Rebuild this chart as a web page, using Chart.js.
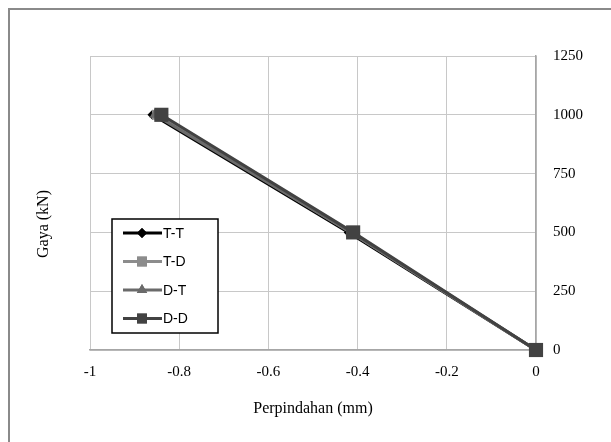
<!DOCTYPE html>
<html>
<head>
<meta charset="utf-8">
<script src="https://cdn.jsdelivr.net/npm/chart.js@4"></script>
<style>
  html, body { margin: 0; padding: 0; background: #fff; }
  #wrap { position: relative; width: 611px; height: 442px; overflow: hidden; }
  #frame {
    position: absolute; left: 8px; top: 8px; width: 620px; height: 460px;
    border-left: 2px solid #8a8a8a; border-top: 2px solid #8a8a8a;
    pointer-events: none;
  }
  canvas { position: absolute; left: 0; top: 0; }
</style>
</head>
<body>
<div id="wrap">
  <canvas id="c" width="611" height="442"></canvas>
  <div id="frame"></div>
</div>
<script>
/* data */
var forceKN = [1000, 500, 0];
var dispTT = [-0.86, -0.42, 0];
var dispTD = [-0.85, -0.415, 0];
var dispDT = [-0.855, -0.415, 0];
var dispDD = [-0.84, -0.41, 0];
var xTicks = [-1, -0.8, -0.6, -0.4, -0.2, 0];
var yTicks = [0, 250, 500, 750, 1000, 1250];

var serif = "'Liberation Serif', 'DejaVu Serif', serif";
var sans = "'Liberation Sans', Arial, sans-serif";

function pts(xs) {
  return xs.map(function (x, i) { return { x: x, y: forceKN[i] }; });
}

function series(label, xs, color, style, radius, order) {
  return {
    label: label, data: pts(xs), showLine: true,
    borderColor: color, backgroundColor: color, borderWidth: 3,
    pointStyle: style, pointRadius: radius, pointBorderWidth: 0,
    order: order, fill: false, clip: false
  };
}

// legend box drawn inside the plot, like the spreadsheet one
var boxLegend = {
  id: "boxLegend",
  afterDraw: function (chart) {
    var ctx = chart.ctx;
    var bx = 112, by = 219, bw = 106, bh = 114;
    ctx.save();
    ctx.fillStyle = "#fff";
    ctx.fillRect(bx, by, bw, bh);
    ctx.strokeStyle = "#000";
    ctx.lineWidth = 1.5;
    ctx.strokeRect(bx, by, bw, bh);
    chart.data.datasets.forEach(function (ds, i) {
      var y = 233 + i * 28.5;
      ctx.strokeStyle = ds.borderColor;
      ctx.lineWidth = 3;
      ctx.beginPath();
      ctx.moveTo(123, y);
      ctx.lineTo(162, y);
      ctx.stroke();
      ctx.fillStyle = ds.backgroundColor;
      var r = Math.min(ds.pointRadius, 7);
      Chart.helpers.drawPoint(ctx, { pointStyle: ds.pointStyle, radius: r, borderWidth: 0 }, 142, y);
      ctx.fill();
      ctx.fillStyle = "#000";
      ctx.font = "14px " + sans;
      ctx.textBaseline = "middle";
      ctx.fillText(ds.label, 163, y + 1);
    });
    // y axis title on the left
    ctx.translate(44, 224);
    ctx.rotate(-Math.PI / 2);
    ctx.textAlign = "center";
    ctx.textBaseline = "middle";
    ctx.font = "16px " + serif;
    ctx.fillStyle = "#000";
    ctx.fillText("Gaya (kN)", 0, 0);
    ctx.restore();
  }
};

new Chart(document.getElementById("c"), {
  type: "scatter",
  data: {
    datasets: [
      series("T-T", dispTT, "#000000", "rectRot", 5, 3),
      series("T-D", dispTD, "#8c8c8c", "rect", 7, 2),
      series("D-T", dispDT, "#6a6a6a", "triangle", 6, 1),
      series("D-D", dispDD, "#424242", "rect", 10, 0)
    ]
  },
  options: {
    responsive: false,
    animation: false,
    layout: { padding: { top: 56, left: 0, right: 0, bottom: 0 } },
    plugins: { legend: { display: false }, tooltip: { enabled: false } },
    scales: {
      x: {
        type: "linear", min: -1, max: 0,
        afterBuildTicks: function (s) { s.ticks = xTicks.map(function (v) { return { value: v }; }); },
        afterFit: function (s) { s.height = 92; },
        grid: { color: "#c8c8c8", drawTicks: false },
        border: { color: "#a6a6a6", width: 1.5 },
        ticks: { color: "#000", padding: 13, font: { family: serif, size: 15 },
                 callback: function (v) { return String(v); } },
        title: { display: true, text: "Perpindahan (mm)", color: "#000", padding: { top: 0, bottom: 24 }, font: { family: serif, size: 16 } }
      },
      y: {
        position: "right", min: 0, max: 1250,
        afterBuildTicks: function (s) { s.ticks = yTicks.map(function (v) { return { value: v }; }); },
        afterFit: function (s) { s.width = 75; },
        grid: { color: "#c8c8c8", drawTicks: false },
        border: { color: "#a6a6a6", width: 1.5 },
        ticks: { color: "#000", padding: 17, font: { family: serif, size: 15 },
                 callback: function (v) { return String(v); } }
      },
      yl: {
        position: "left", min: 0, max: 1250,
        afterFit: function (s) { s.width = 90; },
        grid: { display: false },
        border: { display: false },
        ticks: { display: false }
      }
    }
  },
  plugins: [boxLegend]
});
</script>
</body>
</html>
